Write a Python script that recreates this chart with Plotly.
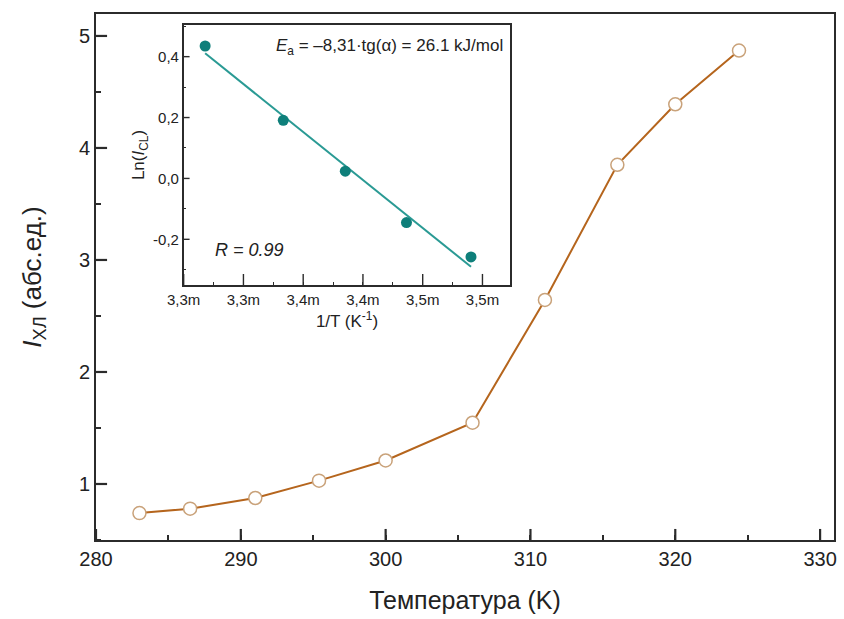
import numpy as np
import plotly.graph_objects as go

# Main curve: chemiluminescence intensity vs temperature
temperature_K = [283.0, 286.5, 291.0, 295.4, 300.0, 306.0, 311.0, 316.0, 320.0, 324.4]
intensity = [0.74, 0.78, 0.875, 1.03, 1.21, 1.547, 2.643, 3.85, 4.39, 4.87]

# Arrhenius inset: temperatures used and Ln(I) values
inset_T = [306.0, 300.0, 295.4, 291.0, 286.5]
ln_I = [0.435, 0.191, 0.024, -0.145, -0.258]

main_xticks = [280, 290, 300, 310, 320, 330]
main_yticks = [1, 2, 3, 4, 5]
inset_xtick_vals = [3.25e-3, 3.30e-3, 3.35e-3, 3.40e-3, 3.45e-3, 3.50e-3]
inset_xtick_text = ["3,3m", "3,3m", "3,4m", "3,4m", "3,5m", "3,5m"]
inset_ytick_vals = [-0.2, 0.0, 0.2, 0.4]
inset_ytick_text = ["-0,2", "0,0", "0,2", "0,4"]

inv_T = [1.0 / t for t in inset_T]
slope, intercept = np.polyfit(inv_T, ln_I, 1)
fit_x = [min(inv_T), max(inv_T)]
fit_y = [slope * x + intercept for x in fit_x]

FONT = "Liberation Sans, Arial, sans-serif"
AXIS_COLOR = "#2b2b2b"
BROWN = "#b5651d"
BROWN_EDGE = "#c9a27a"
TEAL = "#0e7f7a"
TEAL_LINE = "#2a9a94"

INSET_XDOM = [0.1188, 0.5614]
INSET_YDOM = [0.4848, 0.9791]

fig = go.Figure()

fig.add_trace(go.Scatter(
    x=temperature_K, y=intensity, mode="lines+markers",
    line=dict(color=BROWN, width=2),
    marker=dict(symbol="circle", size=13, color="white",
                line=dict(color=BROWN_EDGE, width=1.5)),
    xaxis="x", yaxis="y", showlegend=False,
))

fig.add_trace(go.Scatter(
    x=fit_x, y=fit_y, mode="lines",
    line=dict(color=TEAL_LINE, width=2),
    xaxis="x2", yaxis="y2", showlegend=False,
))
fig.add_trace(go.Scatter(
    x=inv_T, y=ln_I, mode="markers",
    marker=dict(symbol="circle", size=11, color=TEAL),
    xaxis="x2", yaxis="y2", showlegend=False,
))

main_axis = dict(
    showline=True, linecolor=AXIS_COLOR, linewidth=2, mirror=True,
    ticks="", showgrid=False, zeroline=False,
    tickfont=dict(family=FONT, size=20, color="#222"),
)

inset_axis = dict(
    showline=True, linecolor=AXIS_COLOR, linewidth=1.5, mirror=True,
    ticks="", showgrid=False, zeroline=False,
    tickfont=dict(family=FONT, size=15, color="#222"),
)

fig.update_layout(
    width=844, height=619,
    margin=dict(l=96, r=7, t=14, b=79),
    paper_bgcolor="white", plot_bgcolor="white",
    xaxis=dict(
        **main_axis, range=[280, 330.96],
        tickvals=main_xticks,
        minor=dict(ticks="inside", ticklen=5, tickwidth=1.5, tickcolor=AXIS_COLOR, dtick=5, tick0=280),
        title=dict(text="Температура (K)", font=dict(family=FONT, size=25, color="#222"), standoff=22),
        domain=[0, 1],
    ),
    yaxis=dict(
        **main_axis, range=[0.5, 5.196],
        tickvals=main_yticks,
        minor=dict(ticks="inside", ticklen=5, tickwidth=1.5, tickcolor=AXIS_COLOR, dtick=0.5, tick0=0),
        title=dict(text="<i>I</i><sub>ХЛ</sub> (абс.ед.)", font=dict(family=FONT, size=26, color="#222"), standoff=30),
        domain=[0, 1],
    ),
    xaxis2=dict(
        **inset_axis, range=[3.25e-3, 3.5233e-3],
        tickvals=inset_xtick_vals, ticktext=inset_xtick_text,
        minor=dict(ticks="inside", ticklen=3, tickwidth=1, tickcolor=AXIS_COLOR, dtick=2.5e-5, tick0=3.25e-3),
        title=dict(text="1/T (K<sup>-1</sup>)", font=dict(family=FONT, size=17, color="#222"), standoff=8),
        domain=INSET_XDOM, anchor="y2",
    ),
    yaxis2=dict(
        **inset_axis, range=[-0.35, 0.504],
        tickvals=inset_ytick_vals, ticktext=inset_ytick_text,
        minor=dict(ticks="inside", ticklen=3, tickwidth=1, tickcolor=AXIS_COLOR, dtick=0.1, tick0=0.1),
        title=dict(text="Ln(<i>I</i><sub>CL</sub>)", font=dict(family=FONT, size=17, color="#222"), standoff=4),
        domain=INSET_YDOM, anchor="x2",
    ),
    annotations=[
        dict(text="<i>E</i><sub>a</sub> = –8,31·tg(α) = 26.1 kJ/mol",
             xref="x2 domain", yref="y2 domain", x=0.985, y=0.915,
             xanchor="right", yanchor="middle", showarrow=False,
             font=dict(family=FONT, size=17, color="#222")),
        dict(text="<i>R = 0.99</i>",
             xref="x2 domain", yref="y2 domain", x=0.09, y=0.135,
             xanchor="left", yanchor="middle", showarrow=False,
             font=dict(family=FONT, size=18, color="#222")),
    ],
)

# Major tick marks pointing inward from the axis lines, placed at the tick values
def add_xticks(vals, xref, y_base, length, width):
    for v in vals:
        fig.add_shape(type="line", xref=xref, yref="paper", x0=v, x1=v,
                      y0=y_base, y1=y_base + length,
                      line=dict(color=AXIS_COLOR, width=width), layer="above")

def add_yticks(vals, yref, x_base, length, width):
    for v in vals:
        fig.add_shape(type="line", xref="paper", yref=yref, x0=x_base, x1=x_base + length,
                      y0=v, y1=v,
                      line=dict(color=AXIS_COLOR, width=width), layer="above")

add_xticks(main_xticks, "x", 0.0, 0.021, 2.2)
add_yticks(main_yticks, "y", 0.0, 0.015, 2.2)
add_xticks(inset_xtick_vals, "x2", INSET_YDOM[0], 0.021, 1.4)
add_yticks(inset_ytick_vals, "y2", INSET_XDOM[0], 0.008, 1.4)

fig.write_html("out.html")
